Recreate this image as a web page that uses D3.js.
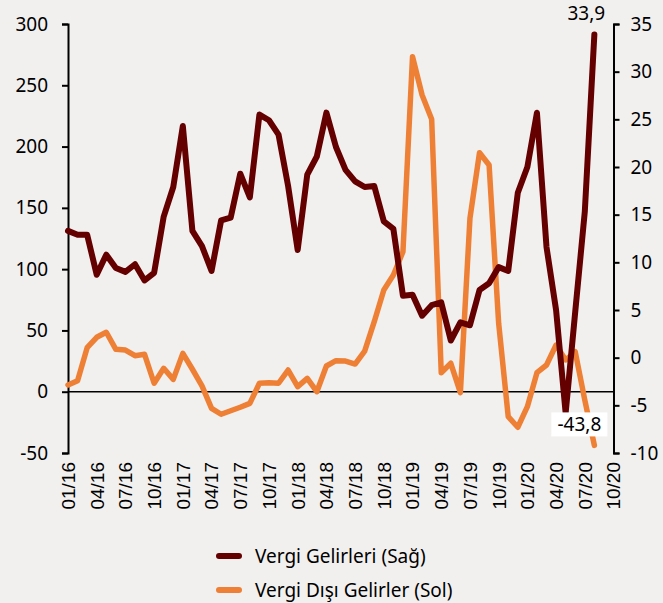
<!DOCTYPE html>
<html>
<head>
<meta charset="utf-8">
<script src="https://cdn.jsdelivr.net/npm/d3@7"></script>
<style>
  body { margin: 0; background: #f2f0ef; }
  svg { display: block; }
</style>
</head>
<body>
<svg width="663" height="603"></svg>
<script>
const WIDTH = 663
const HEIGHT = 603

// monthly, 01/16 .. 08/20
const months = d3.range(56).map(i => {
    const m = (i % 12) + 1
    const y = 16 + Math.floor(i / 12)
    return `${String(m).padStart(2, '0')}/${y}`
})

// Vergi Gelirleri (right axis)
const vergiGelirleri = [
    13.3, 12.9, 12.9, 8.7, 10.8, 9.4, 9.0, 9.8, 8.1, 8.9,
    14.8, 17.9, 24.3, 13.3, 11.7, 9.1, 14.4, 14.7, 19.3, 16.8,
    25.5, 24.9, 23.4, 18.0, 11.3, 19.2, 21.1, 25.7, 22.1, 19.7,
    18.5, 17.9, 18.0, 14.3, 13.5, 6.5, 6.6, 4.4, 5.5, 5.8,
    1.8, 3.7, 3.4, 7.1, 7.8, 9.5, 9.1, 17.3, 20.0, 25.7,
    11.6, 5.0, -5.8, 4.8, 15.3, 33.9
]

// Vergi Dışı Gelirler (left axis)
const vergiDisi = [
    5.5, 9, 35.9, 44.4, 48.5, 34.6, 34, 29.4, 30.5, 6.9,
    19.1, 10.1, 31.3, 18.3, 4.7, -13.6, -18.4, -15.5, -12.7, -9.5,
    6.9, 7.4, 6.9, 17.7, 4.1, 10.9, 0, 21, 25.3, 25,
    22.6, 33.2, 57.1, 83, 95.2, 114.2, 273.3, 242.1, 222.2, 15.5,
    23.2, -0.8, 141.5, 195, 185, 55.8, -20.4, -29, -12.2, 15.5,
    21.8, 38.1, 25.9, 32.6, -6.8, -43.8
]

const leftTicks = [-50, 0, 50, 100, 150, 200, 250, 300]
const rightTicks = [-10, -5, 0, 5, 10, 15, 20, 25, 30, 35]
const xTickLabels = ['01/16', '04/16', '07/16', '10/16', '01/17', '04/17', '07/17', '10/17',
    '01/18', '04/18', '07/18', '10/18', '01/19', '04/19', '07/19', '10/19',
    '01/20', '04/20', '07/20', '10/20']

const seriesNames = ['Vergi Gelirleri (Sağ)', 'Vergi Dışı Gelirler (Sol)']
const colors = ['#640000', '#ee8035']

const margin = {left: 68, right: 50, top: 24, bottom: 150}
const plotRight = WIDTH - margin.right
const plotBottom = HEIGHT - margin.bottom

const x = d3.scaleLinear().domain([0, 57]).range([margin.left, plotRight + 0.5])
const yLeft = d3.scaleLinear().domain([-50, 300]).range([plotBottom, margin.top])
const yRight = d3.scaleLinear().domain([-10, 35]).range([plotBottom, margin.top])

const svg = d3.select('svg')
const numFont = '"Noto Sans", sans-serif'
const fmtNum = d => String(d)
const fmtLabel = d => d.toFixed(1).replace('.', ',')

// zero line
svg.append('line')
    .attr('x1', x(0)).attr('x2', x(57))
    .attr('y1', yLeft(0)).attr('y2', yLeft(0))
    .attr('stroke', '#000').attr('stroke-width', 1.5)

// left axis
const gl = svg.append('g')
    .attr('transform', `translate(${margin.left},0)`)
    .call(d3.axisLeft(yLeft).tickValues(leftTicks).tickFormat(fmtNum).tickSize(6).tickPadding(14))
gl.select('.domain').attr('stroke-width', 2)
gl.selectAll('.tick line').attr('stroke-width', 2)
gl.selectAll('text').attr('font-family', numFont).attr('font-size', 19).attr('fill', '#000')

// right axis
const gr = svg.append('g')
    .attr('transform', `translate(${x(57)},0)`)
    .call(d3.axisRight(yRight).tickValues(rightTicks).tickFormat(fmtNum).tickSize(6).tickPadding(11))
gr.select('.domain').attr('stroke-width', 2)
gr.selectAll('.tick line').attr('stroke-width', 2)
gr.selectAll('text').attr('font-family', numFont).attr('font-size', 19).attr('fill', '#000')

// x tick labels (rotated)
svg.append('g')
    .selectAll('text')
    .data(xTickLabels)
    .enter().append('text')
    .attr('transform', (d, i) => `translate(${x(i * 3)},${plotBottom + 9}) rotate(-90)`)
    .attr('text-anchor', 'end')
    .attr('dy', '0.36em')
    .attr('font-family', '"Liberation Sans", Arial, sans-serif')
    .attr('font-size', 19)
    .text(d => d)

// lines
const lineOrange = d3.line().x((d, i) => x(i)).y(d => yLeft(d))
const lineRed = d3.line().x((d, i) => x(i)).y(d => yRight(d))

svg.append('path')
    .datum(vergiDisi)
    .attr('d', lineOrange)
    .attr('fill', 'none')
    .attr('stroke', colors[1])
    .attr('stroke-width', 5.5)
    .attr('stroke-linejoin', 'round')
    .attr('stroke-linecap', 'round')

svg.append('path')
    .datum(vergiGelirleri)
    .attr('d', lineRed)
    .attr('fill', 'none')
    .attr('stroke', colors[0])
    .attr('stroke-width', 6)
    .attr('stroke-linejoin', 'round')
    .attr('stroke-linecap', 'round')

// data labels
const last = vergiGelirleri.length - 1
svg.append('text')
    .attr('x', x(last) - 8).attr('y', yRight(vergiGelirleri[last]) - 15)
    .attr('text-anchor', 'middle')
    .attr('font-family', numFont).attr('font-size', 19)
    .text(fmtLabel(vergiGelirleri[last]))

const lbl = svg.append('g')
    .attr('transform', `translate(${x(last) - 15},${yLeft(vergiDisi[last]) - 21})`)
lbl.append('rect')
    .attr('x', -28).attr('y', -12).attr('width', 56).attr('height', 24)
    .attr('fill', '#fff')
lbl.append('text')
    .attr('text-anchor', 'middle').attr('dy', '0.36em')
    .attr('font-family', numFont).attr('font-size', 19)
    .text(fmtLabel(vergiDisi[last]))

// legend
const legend = svg.append('g')
    .selectAll('g')
    .data(seriesNames)
    .enter().append('g')
    .attr('transform', (d, i) => `translate(217,${556 + i * 34})`)
legend.append('line')
    .attr('x1', 2).attr('x2', 22)
    .attr('stroke', (d, i) => colors[i])
    .attr('stroke-width', 6)
    .attr('stroke-linecap', 'round')
legend.append('text')
    .attr('x', 38).attr('dy', '0.36em')
    .attr('font-family', numFont).attr('font-size', 19)
    .text(d => d)
</script>
</body>
</html>
